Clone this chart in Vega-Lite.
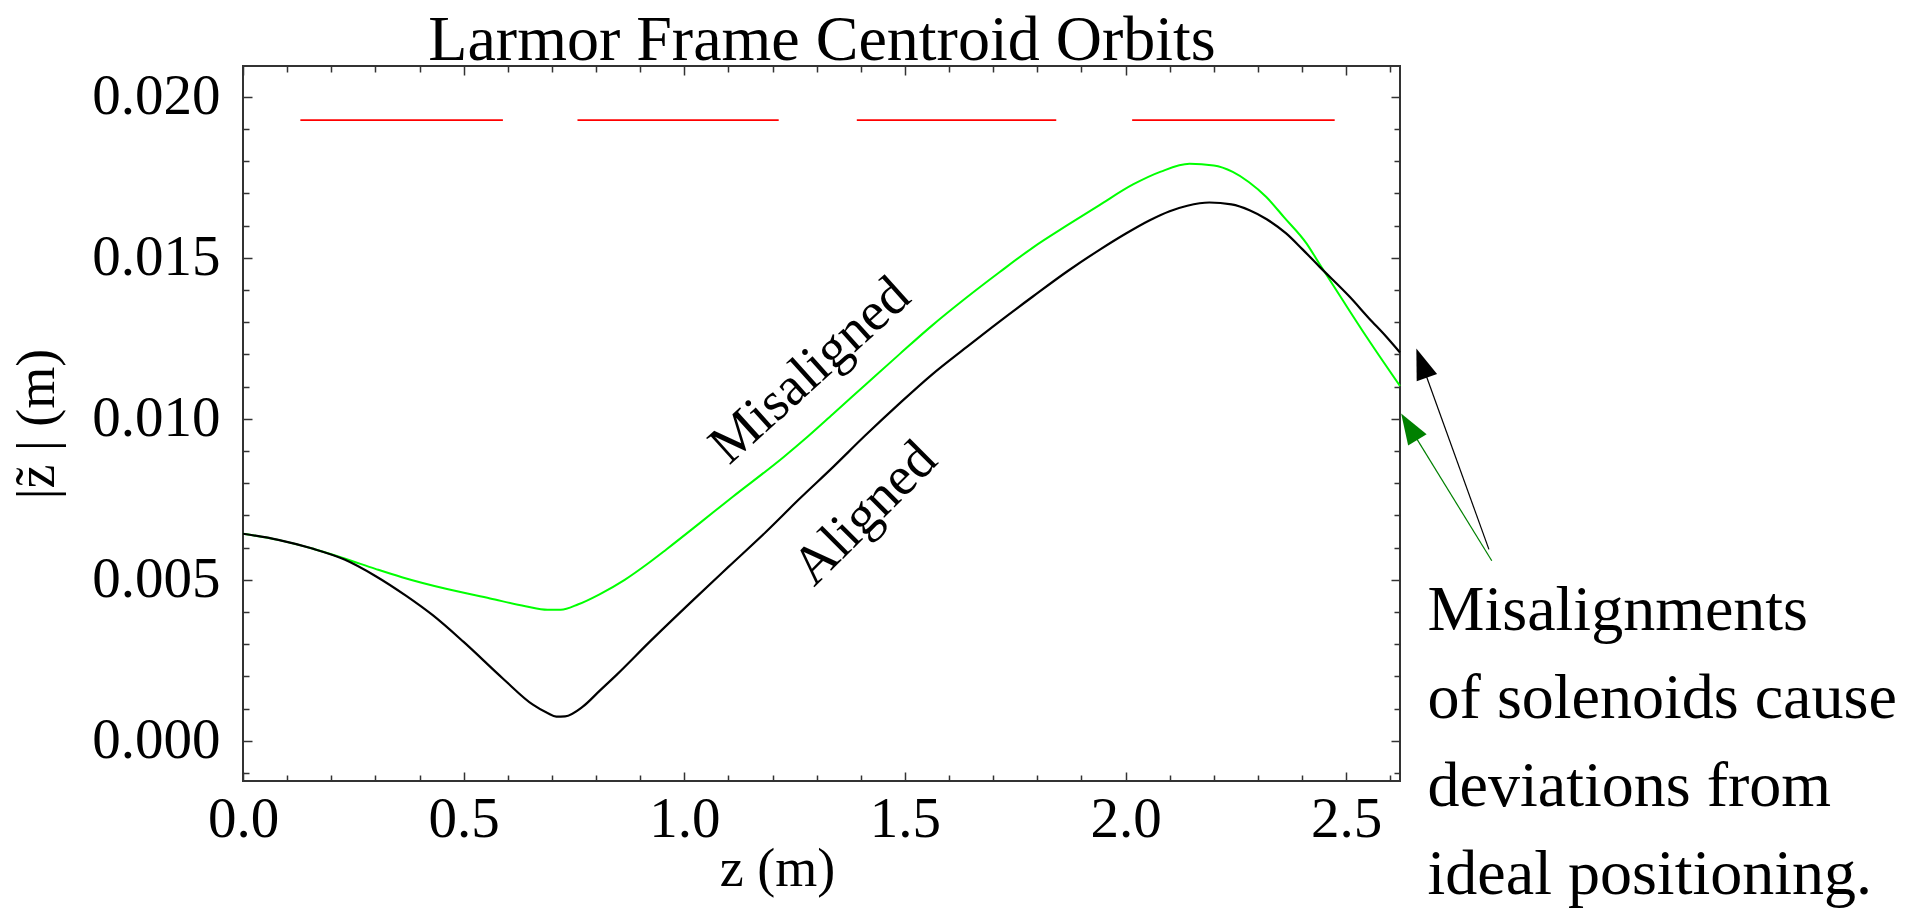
{
  "$schema": "https://vega.github.io/schema/vega-lite/v6.json",
  "width": 1157,
  "height": 715,
  "autosize": {"type": "none"},
  "padding": {"left": 243, "top": 66, "right": 517, "bottom": 127},
  "background": "white",
  "config": {
    "view": {"stroke": "#333333", "strokeWidth": 2},
    "axis": {"grid": false, "domain": false, "tickColor": "#333333", "tickWidth": 1.5, "labelFont": "Liberation Serif", "labelFontSize": 57, "labelColor": "black", "titleFont": "Liberation Serif", "titleFontSize": 54, "titleFontWeight": "normal", "titleColor": "black", "labelFlush": false, "labelOverlap": false}
  },
  "datasets": {
    "lines": [
      {"series": "Aligned", "z": 0, "v": 0.00643},
      {"series": "Aligned", "z": 0.08, "v": 0.00624},
      {"series": "Aligned", "z": 0.157, "v": 0.00597},
      {"series": "Aligned", "z": 0.23, "v": 0.00563},
      {"series": "Aligned", "z": 0.30, "v": 0.00512},
      {"series": "Aligned", "z": 0.37, "v": 0.00450},
      {"series": "Aligned", "z": 0.43, "v": 0.00390},
      {"series": "Aligned", "z": 0.50, "v": 0.00307},
      {"series": "Aligned", "z": 0.59, "v": 0.00192},
      {"series": "Aligned", "z": 0.657, "v": 0.00112},
      {"series": "Aligned", "z": 0.69, "v": 0.00086},
      {"series": "Aligned", "z": 0.71, "v": 0.00075},
      {"series": "Aligned", "z": 0.73, "v": 0.00076},
      {"series": "Aligned", "z": 0.77, "v": 0.00106},
      {"series": "Aligned", "z": 0.808, "v": 0.00155},
      {"series": "Aligned", "z": 0.846, "v": 0.00204},
      {"series": "Aligned", "z": 0.922, "v": 0.00308},
      {"series": "Aligned", "z": 1.02, "v": 0.00437},
      {"series": "Aligned", "z": 1.10, "v": 0.00540},
      {"series": "Aligned", "z": 1.186, "v": 0.00650},
      {"series": "Aligned", "z": 1.26, "v": 0.00750},
      {"series": "Aligned", "z": 1.337, "v": 0.00850},
      {"series": "Aligned", "z": 1.41, "v": 0.00948},
      {"series": "Aligned", "z": 1.488, "v": 0.01048},
      {"series": "Aligned", "z": 1.56, "v": 0.01136},
      {"series": "Aligned", "z": 1.639, "v": 0.01222},
      {"series": "Aligned", "z": 1.715, "v": 0.01303},
      {"series": "Aligned", "z": 1.79, "v": 0.01380},
      {"series": "Aligned", "z": 1.87, "v": 0.01460},
      {"series": "Aligned", "z": 1.941, "v": 0.01525},
      {"series": "Aligned", "z": 2.00, "v": 0.01575},
      {"series": "Aligned", "z": 2.055, "v": 0.01617},
      {"series": "Aligned", "z": 2.10, "v": 0.01645},
      {"series": "Aligned", "z": 2.14, "v": 0.01662},
      {"series": "Aligned", "z": 2.19, "v": 0.01672},
      {"series": "Aligned", "z": 2.24, "v": 0.01666},
      {"series": "Aligned", "z": 2.281, "v": 0.01648},
      {"series": "Aligned", "z": 2.32, "v": 0.01620},
      {"series": "Aligned", "z": 2.364, "v": 0.01576},
      {"series": "Aligned", "z": 2.40, "v": 0.01528},
      {"series": "Aligned", "z": 2.44, "v": 0.01472},
      {"series": "Aligned", "z": 2.508, "v": 0.01379},
      {"series": "Aligned", "z": 2.552, "v": 0.01312},
      {"series": "Aligned", "z": 2.591, "v": 0.01255},
      {"series": "Aligned", "z": 2.622, "v": 0.01206},
      {"series": "Misaligned", "z": 0, "v": 0.00643},
      {"series": "Misaligned", "z": 0.08, "v": 0.00624},
      {"series": "Misaligned", "z": 0.157, "v": 0.00597},
      {"series": "Misaligned", "z": 0.23, "v": 0.00566},
      {"series": "Misaligned", "z": 0.30, "v": 0.00534},
      {"series": "Misaligned", "z": 0.36, "v": 0.00508},
      {"series": "Misaligned", "z": 0.46, "v": 0.00472},
      {"series": "Misaligned", "z": 0.56, "v": 0.00442},
      {"series": "Misaligned", "z": 0.64, "v": 0.00418},
      {"series": "Misaligned", "z": 0.69, "v": 0.00407},
      {"series": "Misaligned", "z": 0.72, "v": 0.00407},
      {"series": "Misaligned", "z": 0.76, "v": 0.00424},
      {"series": "Misaligned", "z": 0.808, "v": 0.00455},
      {"series": "Misaligned", "z": 0.865, "v": 0.00500},
      {"series": "Misaligned", "z": 0.92, "v": 0.00553},
      {"series": "Misaligned", "z": 0.96, "v": 0.00595},
      {"series": "Misaligned", "z": 1.035, "v": 0.00676},
      {"series": "Misaligned", "z": 1.11, "v": 0.00758},
      {"series": "Misaligned", "z": 1.224, "v": 0.00880},
      {"series": "Misaligned", "z": 1.28, "v": 0.00945},
      {"series": "Misaligned", "z": 1.337, "v": 0.01015},
      {"series": "Misaligned", "z": 1.41, "v": 0.01105},
      {"series": "Misaligned", "z": 1.488, "v": 0.01201},
      {"series": "Misaligned", "z": 1.56, "v": 0.01288},
      {"series": "Misaligned", "z": 1.639, "v": 0.01376},
      {"series": "Misaligned", "z": 1.715, "v": 0.01456},
      {"series": "Misaligned", "z": 1.79, "v": 0.01532},
      {"series": "Misaligned", "z": 1.87, "v": 0.01603},
      {"series": "Misaligned", "z": 1.941, "v": 0.01664},
      {"series": "Misaligned", "z": 2.017, "v": 0.01728},
      {"series": "Misaligned", "z": 2.08, "v": 0.01768},
      {"series": "Misaligned", "z": 2.145, "v": 0.01792},
      {"series": "Misaligned", "z": 2.20, "v": 0.01787},
      {"series": "Misaligned", "z": 2.243, "v": 0.01767},
      {"series": "Misaligned", "z": 2.28, "v": 0.01735},
      {"series": "Misaligned", "z": 2.319, "v": 0.01689},
      {"series": "Misaligned", "z": 2.36, "v": 0.01625},
      {"series": "Misaligned", "z": 2.41, "v": 0.01545},
      {"series": "Misaligned", "z": 2.44, "v": 0.01480},
      {"series": "Misaligned", "z": 2.492, "v": 0.01369},
      {"series": "Misaligned", "z": 2.546, "v": 0.01255},
      {"series": "Misaligned", "z": 2.622, "v": 0.01102}
    ],
    "magnets": [
      {"z": 0.130, "z2": 0.589, "v": 0.01928},
      {"z": 0.758, "z2": 1.214, "v": 0.01928},
      {"z": 1.391, "z2": 1.843, "v": 0.01928},
      {"z": 2.015, "z2": 2.474, "v": 0.01928}
    ],
    "labels": [
      {"label": "Misaligned", "z": 1.284, "v": 0.01151},
      {"label": "Aligned", "z": 1.409, "v": 0.00707}
    ],
    "arrows": [
      {"series": "Aligned", "z": 2.8235, "v": 0.005944, "z2": 2.671, "v2": 0.011733},
      {"series": "Misaligned", "z": 2.830, "v": 0.00559, "z2": 2.643, "v2": 0.009758}
    ],
    "note": [
      {"z": 2.6845, "v": 0.00343, "text": "Misalignments\nof solenoids cause\ndeviations from\nideal positioning."}
    ]
  },
  "layer": [
    {
      "data": {"name": "lines"},
      "transform": [{"filter": "datum.series === 'Misaligned'"}],
      "mark": {"type": "line", "color": "#00ff00", "strokeWidth": 2, "interpolate": "monotone"},
      "encoding": {
        "x": {"field": "z", "type": "quantitative", "scale": {"domain": [0, 2.622], "nice": false, "zero": false}, "axis": null},
        "y": {"field": "v", "type": "quantitative", "scale": {"domain": [-0.00125, 0.02096], "nice": false, "zero": false}, "axis": null}
      }
    },
    {
      "data": {"name": "lines"},
      "transform": [{"filter": "datum.series === 'Aligned'"}],
      "mark": {"type": "line", "color": "#000000", "strokeWidth": 2.2, "interpolate": "monotone"},
      "encoding": {
        "x": {"field": "z", "type": "quantitative", "scale": {"domain": [0, 2.622], "nice": false, "zero": false},
          "axis": {"orient": "bottom", "values": [0, 0.5, 1, 1.5, 2, 2.5], "format": ".1f", "tickSize": -9, "labelPadding": 19, "title": "z (m)", "titleX": 534, "titleY": 104, "titleBaseline": "alphabetic", "titleAlign": "center"}},
        "y": {"field": "v", "type": "quantitative", "scale": {"domain": [-0.00125, 0.02096], "nice": false, "zero": false},
          "axis": {"orient": "left", "values": [0, 0.005, 0.01, 0.015, 0.02], "format": ".3f", "tickSize": -9, "labelPadding": 32, "title": "|z\u0303 | (m)", "titleX": -206, "titleY": 357.5, "titleAngle": -90, "titleBaseline": "middle", "titleAlign": "center"}}
      }
    },
    {
      "data": {"name": "magnets"},
      "mark": {"type": "rule", "color": "#ff0000", "strokeWidth": 1.6},
      "encoding": {
        "x": {"field": "z", "type": "quantitative", "scale": {"domain": [0, 2.622], "nice": false, "zero": false},
          "axis": {"orient": "bottom", "values": [0.1, 0.2, 0.3, 0.4, 0.6, 0.7, 0.8, 0.9, 1.1, 1.2, 1.3, 1.4, 1.6, 1.7, 1.8, 1.9, 2.1, 2.2, 2.3, 2.4, 2.6], "tickSize": -6, "labels": false, "title": null}},
        "x2": {"field": "z2"},
        "y": {"field": "v", "type": "quantitative", "scale": {"domain": [-0.00125, 0.02096], "nice": false, "zero": false},
          "axis": {"orient": "left", "values": [-0.001, 0.001, 0.002, 0.003, 0.004, 0.006, 0.007, 0.008, 0.009, 0.011, 0.012, 0.013, 0.014, 0.016, 0.017, 0.018, 0.019], "tickSize": -6, "labels": false, "title": null}}
      }
    },
    {
      "data": {"name": "labels"},
      "transform": [{"filter": "datum.label === 'Misaligned'"}],
      "mark": {"type": "text", "font": "Liberation Serif", "fontSize": 55, "color": "black", "angle": -42, "align": "center", "baseline": "middle"},
      "encoding": {
        "text": {"field": "label"},
        "x": {"field": "z", "type": "quantitative", "scale": {"domain": [0, 2.622], "nice": false, "zero": false},
          "axis": {"orient": "top", "values": [0, 0.5, 1, 1.5, 2, 2.5], "tickSize": -9, "labels": false, "title": "Larmor Frame Centroid Orbits", "titleFontSize": 64, "titleX": 578.5, "titleY": -7, "titleBaseline": "alphabetic", "titleAlign": "center", "titleAngle": 0}},
        "y": {"field": "v", "type": "quantitative", "scale": {"domain": [-0.00125, 0.02096], "nice": false, "zero": false},
          "axis": {"orient": "right", "values": [0, 0.005, 0.01, 0.015, 0.02], "tickSize": -9, "labels": false, "title": null}}
      }
    },
    {
      "data": {"name": "labels"},
      "transform": [{"filter": "datum.label === 'Aligned'"}],
      "mark": {"type": "text", "font": "Liberation Serif", "fontSize": 55, "color": "black", "angle": -45, "align": "center", "baseline": "middle"},
      "encoding": {
        "text": {"field": "label"},
        "x": {"field": "z", "type": "quantitative", "scale": {"domain": [0, 2.622], "nice": false, "zero": false},
          "axis": {"orient": "top", "values": [0.1, 0.2, 0.3, 0.4, 0.6, 0.7, 0.8, 0.9, 1.1, 1.2, 1.3, 1.4, 1.6, 1.7, 1.8, 1.9, 2.1, 2.2, 2.3, 2.4, 2.6], "tickSize": -6, "labels": false, "title": null}},
        "y": {"field": "v", "type": "quantitative", "scale": {"domain": [-0.00125, 0.02096], "nice": false, "zero": false},
          "axis": {"orient": "right", "values": [-0.001, 0.001, 0.002, 0.003, 0.004, 0.006, 0.007, 0.008, 0.009, 0.011, 0.012, 0.013, 0.014, 0.016, 0.017, 0.018, 0.019], "tickSize": -6, "labels": false, "title": null}}
      }
    },
    {
      "data": {"name": "arrows"},
      "transform": [{"filter": "datum.series === 'Aligned'"}],
      "mark": {"type": "rule", "color": "#000000", "strokeWidth": 1.2},
      "encoding": {
        "x": {"field": "z", "type": "quantitative", "scale": {"domain": [0, 2.622], "nice": false, "zero": false}, "axis": null},
        "y": {"field": "v", "type": "quantitative", "scale": {"domain": [-0.00125, 0.02096], "nice": false, "zero": false}, "axis": null},
        "x2": {"field": "z2"},
        "y2": {"field": "v2"}
      }
    },
    {
      "data": {"name": "arrows"},
      "transform": [{"filter": "datum.series === 'Misaligned'"}],
      "mark": {"type": "rule", "color": "#008000", "strokeWidth": 1.2},
      "encoding": {
        "x": {"field": "z", "type": "quantitative", "scale": {"domain": [0, 2.622], "nice": false, "zero": false}, "axis": null},
        "y": {"field": "v", "type": "quantitative", "scale": {"domain": [-0.00125, 0.02096], "nice": false, "zero": false}, "axis": null},
        "x2": {"field": "z2"},
        "y2": {"field": "v2"}
      }
    },
    {
      "data": {"name": "arrows"},
      "transform": [{"filter": "datum.series === 'Aligned'"}],
      "mark": {"type": "point", "shape": "M0,-1L-0.7,1L0.7,1Z", "size": 961, "angle": -19.9, "filled": true, "color": "#000000", "opacity": 1, "strokeWidth": 0},
      "encoding": {
        "x": {"field": "z2", "type": "quantitative", "scale": {"domain": [0, 2.622], "nice": false, "zero": false}, "axis": null},
        "y": {"field": "v2", "type": "quantitative", "scale": {"domain": [-0.00125, 0.02096], "nice": false, "zero": false}, "axis": null}
      }
    },
    {
      "data": {"name": "arrows"},
      "transform": [{"filter": "datum.series === 'Misaligned'"}],
      "mark": {"type": "point", "shape": "M0,-1L-0.7,1L0.7,1Z", "size": 961, "angle": -31.6, "filled": true, "color": "#008000", "opacity": 1, "strokeWidth": 0},
      "encoding": {
        "x": {"field": "z2", "type": "quantitative", "scale": {"domain": [0, 2.622], "nice": false, "zero": false}, "axis": null},
        "y": {"field": "v2", "type": "quantitative", "scale": {"domain": [-0.00125, 0.02096], "nice": false, "zero": false}, "axis": null}
      }
    },
    {
      "data": {"name": "note"},
      "mark": {"type": "text", "font": "Liberation Serif", "fontSize": 64, "color": "black", "align": "left", "baseline": "alphabetic", "lineBreak": "\n", "lineHeight": 88},
      "encoding": {
        "text": {"field": "text"},
        "x": {"field": "z", "type": "quantitative", "scale": {"domain": [0, 2.622], "nice": false, "zero": false}, "axis": null},
        "y": {"field": "v", "type": "quantitative", "scale": {"domain": [-0.00125, 0.02096], "nice": false, "zero": false}, "axis": null}
      }
    }
  ],
  "resolve": {"axis": {"x": "independent", "y": "independent"}}
}
